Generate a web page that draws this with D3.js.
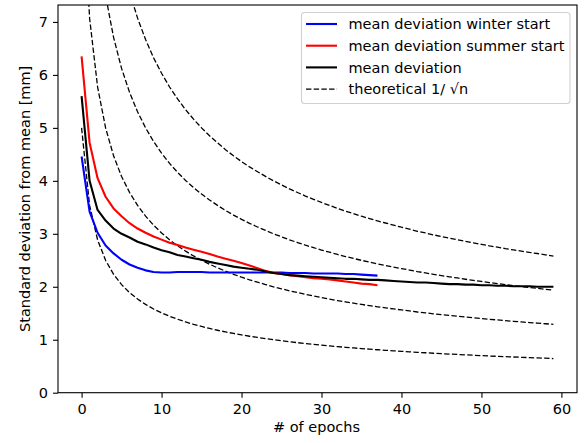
<!DOCTYPE html>
<html>
<head>
<meta charset="utf-8">
<script src="https://cdn.jsdelivr.net/npm/d3@7"></script>
<style>
  html, body { margin: 0; padding: 0; background: #fff; }
  svg { display: block; font-family: "DejaVu Sans", sans-serif; }
</style>
</head>
<body>
<svg id="chart" width="587" height="443"></svg>
<script>
// ---- data ----
const winterStart = [4.46, 3.42, 3.02, 2.78, 2.63, 2.51, 2.42, 2.36, 2.31, 2.28,
  2.27, 2.27, 2.28, 2.28, 2.28, 2.28, 2.27, 2.27, 2.27, 2.27,
  2.27, 2.27, 2.27, 2.27, 2.27, 2.27, 2.26, 2.26, 2.26, 2.25,
  2.25, 2.25, 2.25, 2.24, 2.24, 2.23, 2.22, 2.21];
const summerStart = [6.35, 4.72, 4.05, 3.7, 3.48, 3.33, 3.2, 3.1, 3.02, 2.95,
  2.89, 2.83, 2.79, 2.74, 2.70, 2.66, 2.62, 2.57, 2.53, 2.49,
  2.45, 2.40, 2.35, 2.30, 2.26, 2.24, 2.22, 2.20, 2.18, 2.16,
  2.15, 2.14, 2.12, 2.10, 2.08, 2.06, 2.05, 2.03];
const meanDeviation = [5.6, 4.0, 3.45, 3.25, 3.1, 3.0, 2.93, 2.85, 2.8, 2.74,
  2.69, 2.65, 2.6, 2.57, 2.54, 2.51, 2.47, 2.44, 2.41, 2.38,
  2.36, 2.34, 2.32, 2.29, 2.26, 2.24, 2.22, 2.21, 2.20, 2.19,
  2.18, 2.17, 2.16, 2.15, 2.15, 2.14, 2.13, 2.13, 2.12, 2.11,
  2.10, 2.09, 2.08, 2.08, 2.07, 2.06, 2.05, 2.05, 2.04, 2.04,
  2.03, 2.03, 2.02, 2.02, 2.01, 2.01, 2.01, 2.0, 2.0, 2.0];
// theoretical base curve, one value per epoch
const theoreticalBase = [5.000, 3.536, 2.887, 2.500, 2.236, 2.041, 1.890, 1.768, 1.667, 1.581,
  1.508, 1.443, 1.387, 1.336, 1.291, 1.250, 1.213, 1.179, 1.147, 1.118,
  1.091, 1.066, 1.043, 1.021, 1.000, 0.981, 0.962, 0.945, 0.928, 0.913,
  0.898, 0.884, 0.870, 0.857, 0.845, 0.833, 0.822, 0.811, 0.801, 0.791,
  0.781, 0.772, 0.762, 0.754, 0.745, 0.737, 0.729, 0.722, 0.714, 0.707,
  0.700, 0.693, 0.687, 0.680, 0.674, 0.668, 0.662, 0.657, 0.651, 0.645];
const theoreticalScales = [1, 2, 3, 4];
const xTicks = [0, 10, 20, 30, 40, 50, 60];
const yTicks = [0, 1, 2, 3, 4, 5, 6, 7];
const legendLabels = ["mean deviation winter start", "mean deviation summer start", "mean deviation", "theoretical 1/ \u221An"];

// ---- layout ----
const svg = d3.select("#chart");
const mLeft = 58, mRight = 577, mTop = 5, mBottom = 392.7;
const fs = 14.5;
const x = d3.scaleLinear().domain([-2.95, 61.95]).range([mLeft, mRight]);
const y = d3.scaleLinear().domain([0, 7.32]).range([mBottom, mTop]);

svg.append("defs").append("clipPath").attr("id", "clip")
  .append("rect").attr("x", mLeft).attr("y", mTop).attr("width", mRight - mLeft).attr("height", mBottom - mTop);

const plot = svg.append("g").attr("clip-path", "url(#clip)");
const line = d3.line().x((d, i) => x(i)).y(d => y(d));

// theoretical dashed curves
theoreticalScales.forEach(k => {
  plot.append("path")
    .datum(theoreticalBase.map(v => v * k))
    .attr("d", line)
    .attr("fill", "none")
    .attr("stroke", "#000")
    .attr("stroke-width", 1.3)
    .attr("stroke-dasharray", "5.4,2.3");
});

const series = [
  { data: winterStart, color: "#0000ff" },
  { data: summerStart, color: "#ff0000" },
  { data: meanDeviation, color: "#000000" }
];
series.forEach(s => {
  plot.append("path")
    .datum(s.data)
    .attr("d", line)
    .attr("fill", "none")
    .attr("stroke", s.color)
    .attr("stroke-width", 2.1)
    .attr("stroke-linejoin", "round");
});

// axes
const xAxis = svg.append("g").attr("transform", `translate(0,${mBottom})`)
  .call(d3.axisBottom(x).tickValues(xTicks).tickSize(5).tickPadding(6.5).tickFormat(d3.format("d")));
const yAxis = svg.append("g").attr("transform", `translate(${mLeft},0)`)
  .call(d3.axisLeft(y).tickValues(yTicks).tickSize(5).tickPadding(5).tickFormat(d3.format("d")));
[xAxis, yAxis].forEach(a => {
  a.select(".domain").remove();
  a.selectAll("text").attr("font-size", fs).attr("font-family", "DejaVu Sans").attr("fill", "#000");
  a.selectAll("line").attr("stroke", "#000").attr("stroke-width", 1.1);
});

// spines
svg.append("rect").attr("x", mLeft).attr("y", mTop).attr("width", mRight - mLeft).attr("height", mBottom - mTop)
  .attr("fill", "none").attr("stroke", "#000").attr("stroke-width", 1.1);

// axis labels
svg.append("text").attr("x", (mLeft + mRight) / 2 - 1).attr("y", 432)
  .attr("text-anchor", "middle").attr("font-size", fs).text("# of epochs");
svg.append("text").attr("transform", `translate(29.5,${(mTop + mBottom) / 2}) rotate(-90)`)
  .attr("text-anchor", "middle").attr("font-size", fs).text("Standard deviation from mean [mm]");

// legend
const lg = svg.append("g");
lg.append("rect").attr("x", 301.5).attr("y", 12.5).attr("width", 268.5).attr("height", 91)
  .attr("rx", 3).attr("fill", "#fff").attr("fill-opacity", 0.8)
  .attr("stroke", "#d0d0d0").attr("stroke-width", 1.1);
const legendColors = ["#0000ff", "#ff0000", "#000000", "#000000"];
legendLabels.forEach((lab, i) => {
  const cy = 24 + i * 21.7;
  lg.append("line").attr("x1", 306).attr("x2", 337).attr("y1", cy).attr("y2", cy)
    .attr("stroke", legendColors[i]).attr("stroke-width", i < 3 ? 2.1 : 1.3)
    .attr("stroke-dasharray", i < 3 ? null : "5.4,2.3");
  lg.append("text").attr("x", 348.5).attr("y", cy + 5.2).attr("font-size", fs).text(lab);
});
</script>
</body>
</html>
